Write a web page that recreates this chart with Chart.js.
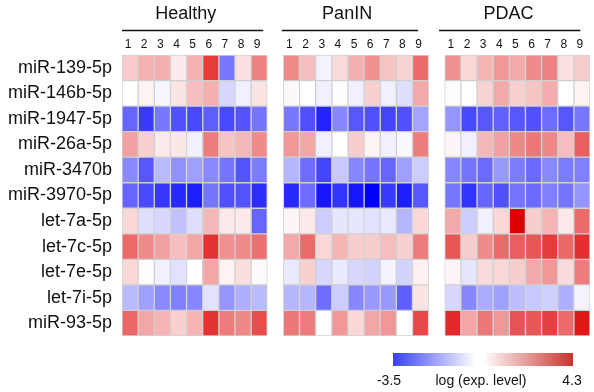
<!DOCTYPE html>
<html>
<head>
<meta charset="utf-8">
<script src="https://cdn.jsdelivr.net/npm/chart.js@4/dist/chart.umd.min.js"></script>
<style>
  html, body { margin: 0; padding: 0; background: #fff; }
  #wrap { width: 594px; height: 392px; }
</style>
</head>
<body>
<div id="wrap"><canvas id="heat"></canvas></div>
<script>
// rows of the heatmap
const mirnas = ["miR-139-5p", "miR-146b-5p", "miR-1947-5p", "miR-26a-5p", "miR-3470b",
  "miR-3970-5p", "let-7a-5p", "let-7c-5p", "let-7e-5p", "let-7i-5p", "miR-93-5p"];
const groups = ["Healthy", "PanIN", "PDAC"];
const sampleLabels = ["1", "2", "3", "4", "5", "6", "7", "8", "9"];
const scaleMin = -3.5;
const scaleMax = 4.3;

// log (exp. level), one row per miRNA, 9 samples each
const healthy = [
  [0.86, 1.3, 1.35, 0.35, 1.3, 3.3, -1.85, 0.5, 2.1],
  [0, 0.2, -0.12, 0.45, 1.1, 1.35, -0.55, -0.2, 0.45],
  [-2.1, -2.7, -1.85, -2.4, -2.5, -2.2, -2.5, -2.35, -1.9],
  [1.6, 0.8, 0.35, 0.4, -0.2, 2.2, 1.0, 1.2, 1.95],
  [-1.6, -2.3, -0.95, -1.5, -1.3, -1.6, -1.9, -2.35, -1.8],
  [-2.1, -2.5, -2.75, -2.95, -3.1, -1.9, -2.4, -2.35, -2.9],
  [0.65, -0.45, -0.55, -0.85, -0.45, 1.2, 0.35, 0.35, -2.1],
  [2.5, 1.95, 1.6, 1.1, 1.5, 3.45, 1.85, 1.95, 2.4],
  [0.65, 0.05, -0.2, -0.4, 0, 1.5, 0.2, 0.55, 0.08],
  [-0.95, -1.3, -1.6, -1.75, -1.65, -0.4, -1.45, -1.1, -0.95],
  [2.55, 1.5, 1.25, 0.8, 1.25, 3.45, 2.2, 2.0, 3.0]
];
const panin = [
  [1.95, 1.1, -0.15, 0.6, 1.35, 1.85, 1.0, 0.75, 2.5],
  [0.1, 0, -0.2, 0.05, -0.2, 0.8, -0.2, -0.45, 1.45],
  [-1.85, -2.4, -3.0, -1.65, -2.3, -2.4, -2.55, -2.4, -1.25],
  [1.75, 1.5, -0.2, 0, 0.85, 0.2, -0.2, -0.1, 2.2],
  [-1.0, -2.0, -2.55, -0.75, -1.65, -1.9, -2.1, -1.3, -0.7],
  [-2.95, -2.0, -3.2, -2.8, -3.2, -3.5, -2.7, -3.1, -2.3],
  [0.15, 0.35, -0.7, -0.35, -0.35, -0.4, -0.3, -1.0, 0.65],
  [1.45, 2.5, 0.65, 1.25, 0.85, 0.85, 1.1, 0.8, 2.2],
  [-0.3, 0.8, -0.55, -0.3, -0.55, -0.6, -0.15, -0.6, 0.25],
  [-1.0, -1.0, -2.0, -0.7, -1.65, -1.4, -1.4, -2.2, 0.45],
  [2.3, 2.2, 0, 1.75, 0.65, 1.5, 1.75, 0, 3.1]
];
const pdac = [
  [1.85, 0.65, 1.25, 1.75, 1.45, 1.95, 2.1, 0.5, 0.85],
  [0.05, 0, 0.75, 1.45, 0.8, 1.0, 1.4, 0, 0.2],
  [-1.45, -2.5, -2.3, -2.15, -2.3, -2.4, -2.0, -2.3, -1.85],
  [0.15, -0.2, 1.2, 1.6, 2.0, 2.3, 2.0, 1.1, 2.7],
  [-1.65, -1.9, -2.05, -1.4, -1.8, -2.05, -1.6, -1.8, -1.75],
  [-1.85, -2.8, -2.1, -2.4, -1.9, -2.05, -1.75, -1.9, -1.45],
  [1.45, -0.7, -0.2, 0.65, 4.3, 0.85, 1.25, 0.35, 2.5],
  [2.85, 0.85, 1.95, 2.5, 2.7, 2.85, 3.3, 2.55, 3.5],
  [0.15, -0.35, 0.6, 0.65, 0.85, 1.45, 1.75, 0.6, 2.2],
  [-0.55, -1.65, -1.15, -1.3, -0.9, -0.75, -0.65, -1.1, -0.15],
  [3.6, 1.5, 2.3, 1.75, 2.9, 2.85, 3.2, 2.5, 3.9]
];
const groupData = [healthy, panin, pdac];
const groupStart = [0, 10, 20]; // x units, one empty column between groups

function cellColor(v) {
  if (v < 0) {
    const t = Math.min(-v / -scaleMin, 1);
    const g = Math.round(255 * (1 - t));
    return `rgb(${g},${g},255)`;
  }
  const t = Math.min(v / scaleMax, 1);
  const r = Math.round(255 - 35 * t);
  const g = Math.round(255 * (1 - t));
  return `rgb(${r},${g},${g})`;
}

// one floating-bar dataset per sample column
const datasets = [];
groupData.forEach((mat, gi) => {
  sampleLabels.forEach((s, ci) => {
    const x0 = groupStart[gi] + ci;
    datasets.push({
      label: groups[gi] + " " + s,
      data: mat.map(row => [x0, x0 + 1]),
      backgroundColor: mat.map(row => cellColor(row[ci])),
      borderColor: "rgba(205,205,205,0.9)",
      borderWidth: 1,
      borderSkipped: false,
      grouped: false,
      barPercentage: 1,
      categoryPercentage: 1
    });
  });
});

const FONT = '"Liberation Sans", Arial, Helvetica, sans-serif';
Chart.defaults.font.family = FONT;

const decorations = {
  id: "decorations",
  afterDraw(chart) {
    const ctx = chart.ctx;
    const x = chart.scales.x;
    ctx.save();
    ctx.fillStyle = "#111";
    ctx.strokeStyle = "#111";
    ctx.textBaseline = "middle";
    ctx.textAlign = "center";
    // group titles, rules and sample numbers
    const lineFrom = [0, -0.1, -0.35];
    const lineTo = [8.75, 8.35, 8.4];
    groups.forEach((g, gi) => {
      const s = groupStart[gi];
      ctx.font = "18px " + FONT;
      ctx.fillText(g, x.getPixelForValue(s + 3.95), 14);
      ctx.lineWidth = 1.5;
      ctx.beginPath();
      ctx.moveTo(x.getPixelForValue(s + lineFrom[gi]), 30.5);
      ctx.lineTo(x.getPixelForValue(s + lineTo[gi]), 30.5);
      ctx.stroke();
      ctx.font = "12px " + FONT;
      sampleLabels.forEach((lab, ci) => {
        ctx.fillText(lab, x.getPixelForValue(s + ci + 0.5) - 2, 44.5);
      });
    });
    // colour key
    const bx = 393, by = 353, bw = 180, bh = 13;
    const grad = ctx.createLinearGradient(bx, 0, bx + bw, 0);
    grad.addColorStop(0, "rgb(55,65,245)");
    grad.addColorStop(0.46, "#ffffff");
    grad.addColorStop(0.5, "#ffffff");
    grad.addColorStop(1, "rgb(200,50,45)");
    ctx.fillStyle = grad;
    ctx.fillRect(bx, by, bw, bh);
    ctx.fillStyle = "#111";
    ctx.font = "14px " + FONT;
    ctx.fillText(String(scaleMin), 389, 381);
    ctx.fillText("log (exp. level)", 481, 381);
    ctx.fillText(String(scaleMax), 572, 381);
    ctx.restore();
  }
};

new Chart(document.getElementById("heat"), {
  type: "bar",
  data: { labels: mirnas, datasets: datasets },
  options: {
    indexAxis: "y",
    responsive: true,
    maintainAspectRatio: false,
    animation: false,
    layout: { padding: { top: 55, right: 4, bottom: 56, left: 0 } },
    plugins: {
      legend: { display: false },
      tooltip: { enabled: false }
    },
    scales: {
      x: { type: "linear", min: 0, max: 29, display: false },
      y: {
        type: "category",
        grid: { display: false, drawTicks: false },
        border: { display: false },
        ticks: { color: "#111", font: { size: 18 }, padding: 10 },
        afterFit(scale) { scale.width = 122; }
      }
    }
  },
  plugins: [decorations]
});
</script>
</body>
</html>
